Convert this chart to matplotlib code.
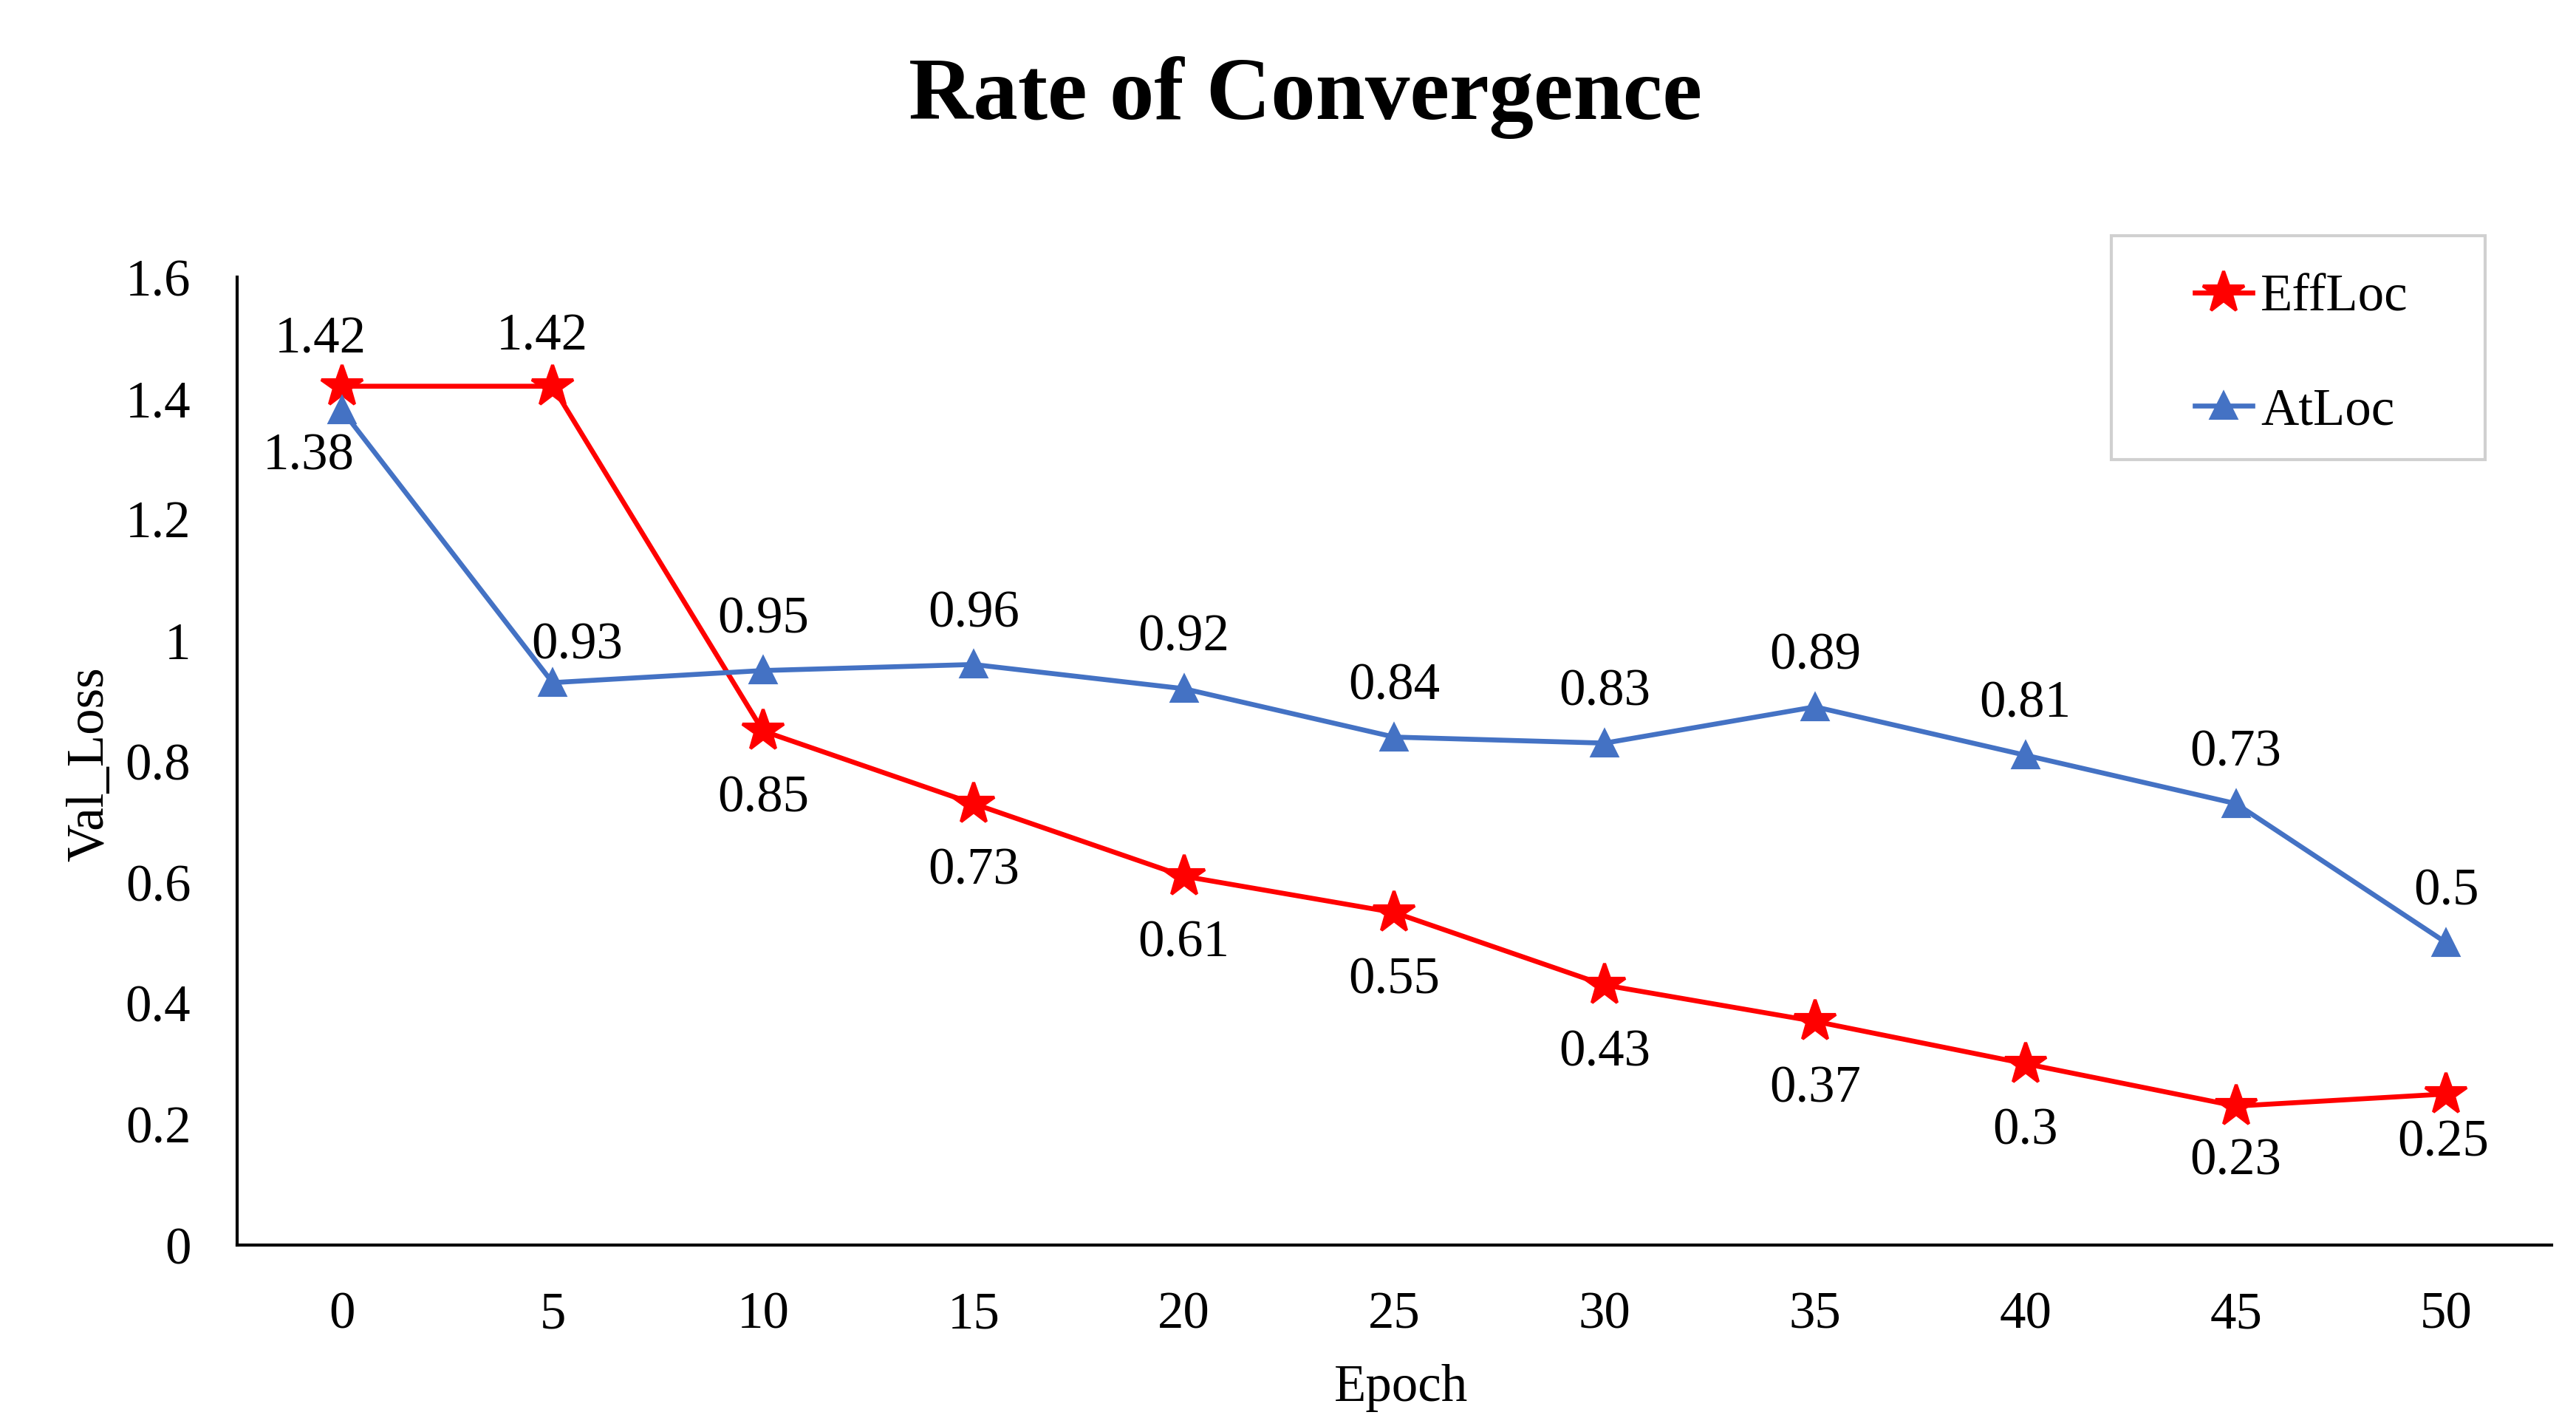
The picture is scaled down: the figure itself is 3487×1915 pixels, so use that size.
import matplotlib
matplotlib.use("Agg")
import matplotlib.pyplot as plt
from matplotlib.patches import Rectangle
from matplotlib.ticker import FormatStrFormatter

epochs = [0, 5, 10, 15, 20, 25, 30, 35, 40, 45, 50]
effloc = [1.42, 1.42, 0.85, 0.73, 0.61, 0.55, 0.43, 0.37, 0.3, 0.23, 0.25]
atloc = [1.38, 0.93, 0.95, 0.96, 0.92, 0.84, 0.83, 0.89, 0.81, 0.73, 0.5]
y_ticks = [0, 0.2, 0.4, 0.6, 0.8, 1.0, 1.2, 1.4, 1.6]

plt.rcParams['font.family'] = ['Liberation Serif', 'DejaVu Serif']
fs = 17

fig = plt.figure(figsize=(3487 / 300, 1915 / 300), dpi=300)
ax = fig.add_axes([0.092, 0.120, 0.8985, 0.684])

red = "#FF0000"
blue = "#4472C4"
l1, = ax.plot(epochs, effloc, color=red, lw=1.6, marker='*', ms=14, label="EffLoc", zorder=3)
l2, = ax.plot(epochs, atloc, color=blue, lw=1.6, marker='^', ms=8, label="AtLoc", zorder=3)

# data labels: EffLoc below, AtLoc above, a few nudged like the original
eff_off = {0: (-7, 15), 1: (-3.5, 16), 9: (0, -18), 10: (-1, -16)}
at_off = {0: (-11, -15), 1: (8, 12)}
for i, (x, y) in enumerate(zip(epochs, effloc)):
    dx, dy = eff_off.get(i, (0, -22))
    ax.annotate(f"{y:g}", (x, y), xytext=(dx, dy), textcoords='offset points',
                ha='center', va='center', fontsize=fs)
for i, (x, y) in enumerate(zip(epochs, atloc)):
    dx, dy = at_off.get(i, (0, 16.5))
    ax.annotate(f"{y:g}", (x, y), xytext=(dx, dy), textcoords='offset points',
                ha='center', va='center', fontsize=fs)

ax.set_xlim(-2.5, 52.5)
ax.set_ylim(0, 1.6)
ax.set_xticks(epochs)
ax.set_yticks(y_ticks)
ax.yaxis.set_major_formatter(FormatStrFormatter('%g'))
ax.tick_params(length=0, labelsize=fs, pad=15)
for s in ['top', 'right']:
    ax.spines[s].set_visible(False)
ax.spines['left'].set_linewidth(1.0)
ax.spines['bottom'].set_linewidth(1.0)

fig.text(0.5066, 0.931, "Rate of Convergence", ha='center', va='center',
         fontsize=29, fontweight='bold')
fig.text(0.544, 0.019, "Epoch", ha='center', va='center', fontsize=fs)
fig.text(0.035, 0.46, "Val_Loss", ha='center', va='center', fontsize=fs, rotation=90)

# legend box
fig.patches.append(Rectangle((0.8196, 0.675), 0.1451, 0.1584, transform=fig.transFigure,
                             fill=False, edgecolor="#D0D0D0", lw=1.0))
fig.legend(handles=[l1, l2], loc='upper left', bbox_to_anchor=(0.842, 0.825),
           frameon=False, fontsize=fs, handlelength=1.1, handletextpad=0.15,
           labelspacing=1.25, borderpad=0.0)

fig.savefig("out.png", dpi=300)
